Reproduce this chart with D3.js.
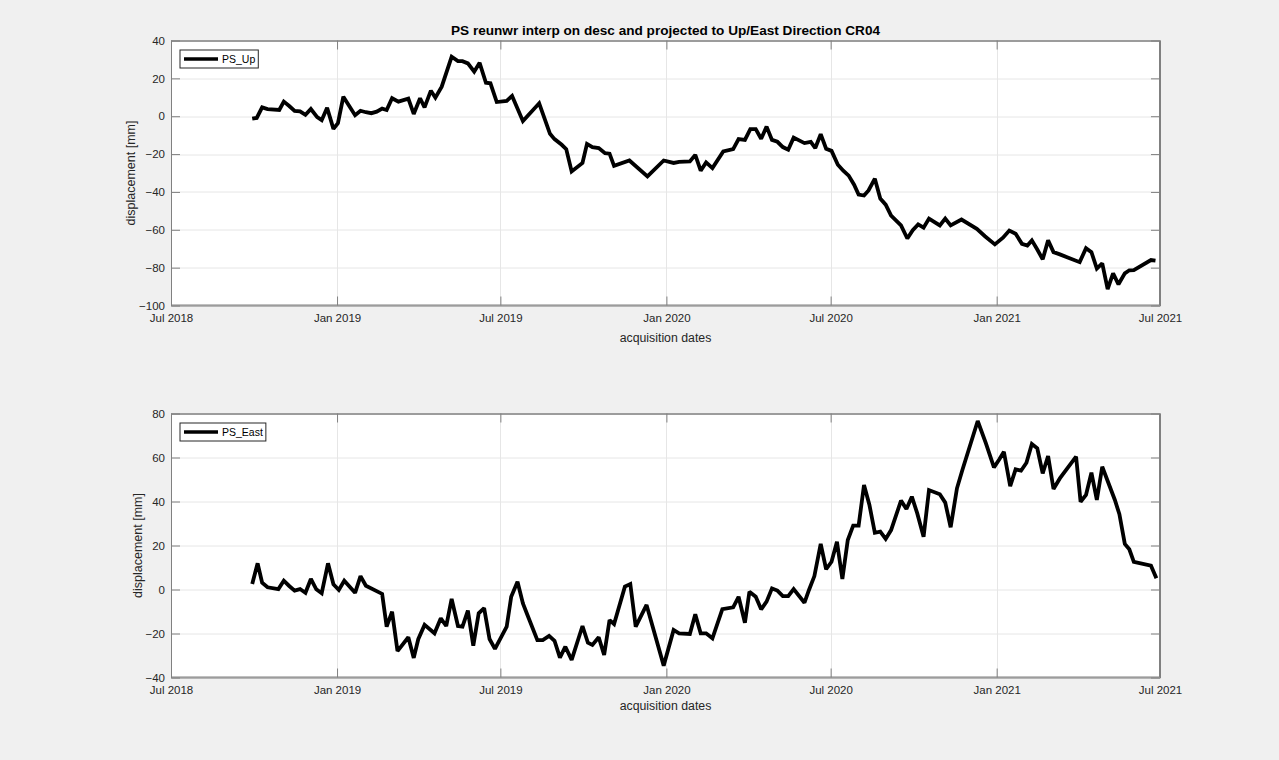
<!DOCTYPE html>
<html>
<head>
<meta charset="utf-8">
<script src="https://cdn.jsdelivr.net/npm/d3@7"></script>
<style>
  html, body { margin: 0; padding: 0; background: #f0f0f0; }
  svg { display: block; font-family: "Liberation Sans", Arial, Helvetica, sans-serif; }
</style>
</head>
<body>
<svg id="chart" width="1279" height="760"></svg>
<script>
// ---------------- DATA ----------------
const chartTitle = "PS reunwr interp on desc and projected to Up/East Direction CR04";
const xLabel = "acquisition dates";
const yLabel = "displacement [mm]";
const xDomain = ["2018-07-01", "2021-07-01"];
const xTickDates = ["2018-07-01", "2019-01-01", "2019-07-01", "2020-01-01", "2020-07-01", "2021-01-01", "2021-07-01"];
const upTicks = [-100, -80, -60, -40, -20, 0, 20, 40];
const eastTicks = [-40, -20, 0, 20, 40, 60, 80];

const upDates = ["2018-09-29","2018-10-04","2018-10-10","2018-10-16","2018-10-29","2018-11-03","2018-11-09","2018-11-15","2018-11-21","2018-11-27",
"2018-12-03","2018-12-10","2018-12-15","2018-12-21","2018-12-28","2019-01-02","2019-01-08","2019-01-21","2019-01-27","2019-02-02",
"2019-02-08","2019-02-14","2019-02-20","2019-02-25","2019-03-03","2019-03-10","2019-03-21","2019-03-27","2019-04-03","2019-04-08",
"2019-04-15","2019-04-20","2019-04-27","2019-05-08","2019-05-15","2019-05-20","2019-05-26","2019-06-02","2019-06-08","2019-06-15",
"2019-06-20","2019-06-27","2019-07-08","2019-07-14","2019-07-26","2019-08-13","2019-08-25","2019-08-30","2019-09-07","2019-09-12",
"2019-09-18","2019-09-30","2019-10-05","2019-10-11","2019-10-18","2019-10-25","2019-10-30","2019-11-04","2019-11-21","2019-12-11",
"2019-12-29","2020-01-09","2020-01-15","2020-01-27","2020-02-02","2020-02-08","2020-02-14","2020-02-21","2020-03-04","2020-03-15",
"2020-03-21","2020-03-28","2020-04-03","2020-04-09","2020-04-15","2020-04-21","2020-04-27","2020-05-03","2020-05-09","2020-05-15",
"2020-05-21","2020-06-02","2020-06-09","2020-06-14","2020-06-20","2020-06-26","2020-07-02","2020-07-09","2020-07-15","2020-07-21",
"2020-07-27","2020-08-01","2020-08-07","2020-08-12","2020-08-19","2020-08-25","2020-08-31","2020-09-06","2020-09-17","2020-09-24",
"2020-09-30","2020-10-06","2020-10-12","2020-10-18","2020-10-30","2020-11-05","2020-11-11","2020-11-23","2020-12-10","2020-12-19",
"2020-12-30","2021-01-08","2021-01-15","2021-01-22","2021-01-29","2021-02-04","2021-02-09","2021-02-15","2021-02-21","2021-02-27",
"2021-03-05","2021-03-12","2021-04-03","2021-04-10","2021-04-16","2021-04-22","2021-04-28","2021-05-04","2021-05-10","2021-05-16",
"2021-05-23","2021-05-28","2021-06-02","2021-06-21","2021-06-26"];
const upValues = [-1.3,-0.9,4.7,3.8,3.3,7.7,5.4,2.8,2.6,0.7,
3.8,-0.5,-2.1,4.5,-6.7,-3.7,10.3,0.5,2.9,2.1,
1.6,2.4,4.0,3.3,9.5,7.7,9.3,1.2,9.5,4.7,
13.5,9.8,15.6,31.4,29.1,29.1,27.9,23.5,28.2,17.7,
17.4,7.5,8.1,10.7,-2.6,6.8,-9.3,-12.1,-15.1,-17.4,
-29.2,-24.7,-14.6,-16.3,-16.8,-19.5,-19.8,-26.2,-23.4,-31.8,
-23.4,-24.7,-24.1,-23.9,-20.4,-28.8,-24.4,-27.4,-18.6,-17.4,
-12.1,-12.5,-6.8,-6.8,-11.9,-5.5,-12.5,-13.5,-16.3,-17.7,
-11.3,-14.2,-13.5,-16.8,-9.5,-17.2,-18.3,-25.6,-28.8,-31.4,
-36.2,-41.4,-41.9,-39.2,-33,-43.5,-46.7,-52.5,-57.7,-64.6,
-60.2,-57.2,-58.9,-54.1,-57.7,-54.1,-57.7,-54.6,-59.5,-63.4,
-67.7,-64.2,-60.4,-62.1,-67.4,-68.3,-65.6,-70.4,-75.6,-65.6,
-71.8,-73,-77.1,-69.7,-71.8,-80.5,-77.7,-91.4,-83,-88.8,
-83,-81.4,-81.3,-76,-76.3];

const eastDates = ["2018-09-29","2018-10-05","2018-10-10","2018-10-16","2018-10-28","2018-11-03","2018-11-09","2018-11-15","2018-11-21","2018-11-27",
"2018-12-03","2018-12-09","2018-12-15","2018-12-22","2018-12-28","2019-01-03","2019-01-09","2019-01-21","2019-01-27","2019-02-02",
"2019-02-20","2019-02-25","2019-03-03","2019-03-09","2019-03-21","2019-03-27","2019-04-01","2019-04-08","2019-04-19","2019-04-26",
"2019-05-02","2019-05-08","2019-05-15","2019-05-20","2019-05-26","2019-06-01","2019-06-07","2019-06-13","2019-06-19","2019-06-25",
"2019-07-08","2019-07-13","2019-07-20","2019-07-26","2019-07-31","2019-08-11","2019-08-17","2019-08-24","2019-08-30","2019-09-05",
"2019-09-11","2019-09-18","2019-09-30","2019-10-06","2019-10-11","2019-10-18","2019-10-24","2019-10-30","2019-11-04","2019-11-16",
"2019-11-22","2019-11-28","2019-12-10","2019-12-29","2020-01-09","2020-01-15","2020-01-27","2020-02-02","2020-02-08","2020-02-14",
"2020-02-21","2020-03-03","2020-03-15","2020-03-21","2020-03-28","2020-04-02","2020-04-09","2020-04-15","2020-04-21","2020-04-27",
"2020-05-03","2020-05-09","2020-05-15","2020-05-21","2020-06-02","2020-06-07","2020-06-13","2020-06-20","2020-06-26","2020-07-02",
"2020-07-08","2020-07-14","2020-07-20","2020-07-26","2020-08-01","2020-08-07","2020-08-13","2020-08-19","2020-08-25","2020-08-31",
"2020-09-06","2020-09-17","2020-09-23","2020-09-29","2020-10-05","2020-10-12","2020-10-18","2020-10-30","2020-11-05","2020-11-11",
"2020-11-18","2020-11-24","2020-12-11","2020-12-20","2020-12-29","2021-01-04","2021-01-09","2021-01-16","2021-01-22","2021-01-28",
"2021-02-03","2021-02-09","2021-02-15","2021-02-21","2021-02-27","2021-03-05","2021-03-12","2021-03-30","2021-04-04","2021-04-10",
"2021-04-16","2021-04-22","2021-04-28","2021-05-12","2021-05-17","2021-05-23","2021-05-28","2021-06-02","2021-06-21","2021-06-27"];
const eastValues = [2.5,11.9,3.1,1.0,0.2,4.0,1.6,-0.5,0.2,-1.5,
4.8,0.1,-1.7,11.9,2.4,-0.2,4.0,-1.5,6.1,1.7,
-2.0,-16.9,-10.1,-28,-21.7,-31.1,-22.6,-16.1,-19.9,-13.1,
-16.6,-4.3,-16.6,-16.9,-9.6,-25.5,-10.8,-8.5,-22.5,-27,
-16.9,-3.3,3.5,-6.3,-11.6,-23,-23,-21.1,-23.3,-31,
-26,-32,-16.6,-24.2,-25.2,-21.7,-29.8,-13.9,-15.7,1.3,
2.5,-16.9,-7.0,-34.6,-18.4,-19.9,-20.2,-11.3,-19.9,-19.9,
-22.2,-8.9,-8.1,-3.3,-15.1,-1.0,-3.3,-9.0,-5.5,0.5,
-0.5,-3.0,-3.0,0.2,-6.0,-0.2,6.1,20.7,9.2,12.6,
21.7,4.8,22.5,29,29,47.5,38.4,25.8,26.3,23,
27,40.4,36.6,42.2,34.6,24,45.2,43.3,39.5,28.3,
46,54.3,76.6,66.5,55.5,59.2,62.6,47,54.6,54,
57.6,66.1,64.2,52.8,60.7,45.7,50.5,60.4,39.9,43,
53.1,40.7,55.8,40.7,34.2,20.7,18.3,12.6,10.8,5.1];

const seriesNames = ["PS_Up", "PS_East"];

// ---------------- DRAW ----------------
const parse = d3.timeParse("%Y-%m-%d");
const fmt = d3.timeFormat("%b %Y");
const svg = d3.select("#chart");

svg.append("rect").attr("width", 1279).attr("height", 760).attr("fill", "#f0f0f0");

const panels = [
  { name: seriesNames[0], dates: upDates, values: upValues, ticks: upTicks,
    left: 171, top: 40.5, width: 989, height: 265, ylabX: 131, xlabY: 342 },
  { name: seriesNames[1], dates: eastDates, values: eastValues, ticks: eastTicks,
    left: 171, top: 413.5, width: 989, height: 264, ylabX: 138, xlabY: 710 }
];

const textColor = "#262626";
const frameColor = "#808080";
const gridColor = "#e6e6e6";
const tickLen = 9;

panels.forEach(p => {
  const g = svg.append("g").attr("transform", `translate(${p.left},${p.top})`);
  const x = d3.scaleTime().domain(xDomain.map(parse)).range([0, p.width]);
  const y = d3.scaleLinear().domain(d3.extent(p.ticks)).range([p.height, 0]);
  const xt = xTickDates.map(parse);

  g.append("rect").attr("width", p.width).attr("height", p.height).attr("fill", "#ffffff");

  // grid
  g.append("g").selectAll("line.gx").data(xt).join("line")
    .attr("x1", d => Math.round(x(d)) + 0.5).attr("x2", d => Math.round(x(d)) + 0.5)
    .attr("y1", 0).attr("y2", p.height).attr("stroke", gridColor).attr("stroke-width", 1);
  g.append("g").selectAll("line.gy").data(p.ticks).join("line")
    .attr("y1", d => Math.round(y(d)) + 0.5).attr("y2", d => Math.round(y(d)) + 0.5)
    .attr("x1", 0).attr("x2", p.width).attr("stroke", gridColor).attr("stroke-width", 1);

  // data line
  const pts = p.dates.map((d, i) => [parse(d), p.values[i]]);
  g.append("path").datum(pts)
    .attr("fill", "none").attr("stroke", "#000").attr("stroke-width", 3.8)
    .attr("stroke-linejoin", "miter").attr("stroke-miterlimit", 2)
    .attr("d", d3.line().x(d => x(d[0])).y(d => y(d[1])));

  // axes (ticks inward)
  const axB = g.append("g").attr("transform", `translate(0,${p.height})`)
    .call(d3.axisBottom(x).tickValues(xt).tickFormat(fmt).tickSizeInner(-tickLen).tickSizeOuter(0).tickPadding(8));
  const axT = g.append("g")
    .call(d3.axisTop(x).tickValues(xt).tickFormat("").tickSizeInner(-tickLen).tickSizeOuter(0));
  const axL = g.append("g")
    .call(d3.axisLeft(y).tickValues(p.ticks).tickSizeInner(-tickLen).tickSizeOuter(0).tickPadding(6));
  const axR = g.append("g").attr("transform", `translate(${p.width},0)`)
    .call(d3.axisRight(y).tickValues(p.ticks).tickFormat("").tickSizeInner(-tickLen).tickSizeOuter(0));
  [axB, axT, axL, axR].forEach(a => {
    a.select(".domain").attr("stroke", frameColor);
    a.selectAll(".tick line").attr("stroke", frameColor);
    a.selectAll(".tick text").attr("fill", textColor).style("font-size", "11.5px")
      .style("font-family", '"Liberation Sans", Arial, sans-serif');
  });
  // frame
  g.append("rect").attr("x", 0.5).attr("y", 0.5).attr("width", p.width - 1).attr("height", p.height - 1)
    .attr("fill", "none").attr("stroke", frameColor).attr("stroke-width", 1);

  // labels
  svg.append("text").attr("x", p.left + p.width / 2).attr("y", p.xlabY)
    .attr("text-anchor", "middle").attr("fill", textColor).style("font-size", "12.3px").text(xLabel);
  svg.append("text").attr("transform", `translate(${p.ylabX},${p.top + p.height / 2}) rotate(-90)`)
    .attr("text-anchor", "middle").attr("dy", "0.35em").attr("fill", textColor).style("font-size", "12.5px").text(yLabel);

  // legend
  const lg = g.append("g").attr("transform", "translate(9,9.5)");
  const txt = lg.append("text").attr("x", 42).attr("y", 9).attr("dy", "0.35em")
    .attr("fill", "#000").style("font-size", "10.5px").text(p.name);
  const tw = txt.node().getComputedTextLength();
  lg.insert("rect", "text").attr("x", 0).attr("y", 0).attr("width", 42 + tw + 3).attr("height", 18)
    .attr("fill", "#fff").attr("stroke", "#262626").attr("stroke-width", 1);
  lg.append("line").attr("x1", 4).attr("x2", 38).attr("y1", 9).attr("y2", 9)
    .attr("stroke", "#000").attr("stroke-width", 3.6);
});

svg.append("text").attr("x", 171 + 989 / 2).attr("y", 35)
  .attr("text-anchor", "middle").attr("fill", "#000").style("font-size", "13.6px").style("font-weight", "bold")
  .text(chartTitle);
</script>
</body>
</html>
